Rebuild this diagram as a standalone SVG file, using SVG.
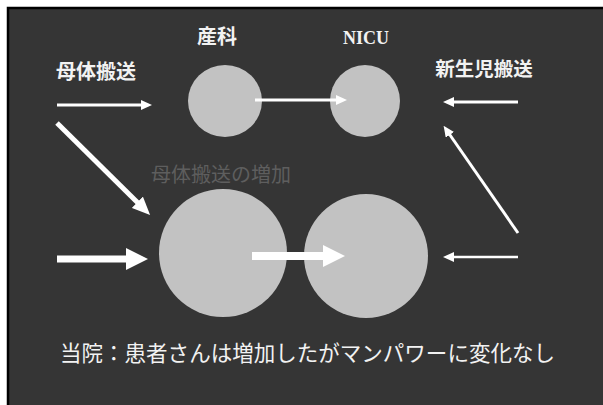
<svg xmlns="http://www.w3.org/2000/svg" width="603" height="405" viewBox="0 0 603 405">
<style>
.bg{fill:#353535;stroke:#000;stroke-width:2.5}
.node{fill:#c2c2c2}
.lbl{font-family:"Noto Sans CJK JP","Noto Sans",sans-serif;fill:#f2f2f2;text-anchor:middle}
.b{font-weight:bold}
.serif{font-family:"Liberation Serif",serif;fill:#f2f2f2;text-anchor:middle;font-weight:bold}
.faint{font-family:"Noto Sans CJK JP",sans-serif;fill:#5e5e5e;text-anchor:middle}
.arr{stroke:#fff;fill:none;stroke-linecap:butt}
</style>
<defs>
<marker id="hs" markerUnits="userSpaceOnUse" viewBox="0 0 11 10" markerWidth="11" markerHeight="10" refX="1" refY="5" orient="auto"><path d="M0,0 L11,5 L0,10 z" fill="#fff"/></marker>
<marker id="hm" markerUnits="userSpaceOnUse" viewBox="0 0 18 16" markerWidth="18" markerHeight="16" refX="1" refY="8" orient="auto"><path d="M0,0 L18,8 L0,16 z" fill="#fff"/></marker>
<marker id="hl" markerUnits="userSpaceOnUse" viewBox="0 0 22 22" markerWidth="22" markerHeight="22" refX="1" refY="11" orient="auto"><path d="M0,0 L22,11 L0,22 z" fill="#fff"/></marker>
</defs>
<rect x="0" y="0" width="603" height="405" fill="#fff"/>
<rect class="bg" x="8" y="8" width="600" height="402"/>
<g id="obstetrics"><ellipse class="node" cx="225" cy="101" rx="37" ry="36"/><text class="lbl b" x="217" y="44" font-size="20">産科</text></g>
<g id="nicu"><ellipse class="node" cx="365" cy="101" rx="35" ry="36"/><text class="serif" x="366" y="44" font-size="18">NICU</text></g>
<g id="obstetrics-big"><ellipse class="node" cx="223" cy="253" rx="64" ry="64"/></g>
<g id="nicu-big"><ellipse class="node" cx="366" cy="256" rx="62" ry="62"/></g>
<g id="labels">
<text class="lbl b" x="96" y="79" font-size="20">母体搬送</text>
<text class="lbl b" x="484" y="76" font-size="19.5">新生児搬送</text>
<text class="faint" x="221" y="182" font-size="20">母体搬送の増加</text>
<text class="lbl" x="307.5" y="361" font-size="21.5" textLength="495" lengthAdjust="spacingAndGlyphs">当院：患者さんは増加したがマンパワーに変化なし</text>
</g>
<g id="connectors">
<line class="arr" x1="57" y1="105" x2="142" y2="105" stroke-width="3" marker-end="url(#hs)"/>
<line class="arr" x1="255" y1="100" x2="337" y2="100" stroke-width="3" marker-end="url(#hs)"/>
<line class="arr" x1="518" y1="102" x2="453" y2="102" stroke-width="3" marker-end="url(#hs)"/>
<line class="arr" x1="518" y1="233" x2="449.3" y2="134" stroke-width="3" stroke-linecap="round" marker-end="url(#hs)"/>
<line class="arr" x1="57" y1="123" x2="138" y2="203" stroke-width="5" marker-end="url(#hm)"/>
<line class="arr" x1="57" y1="259" x2="127" y2="259" stroke-width="7" marker-end="url(#hl)"/>
<line class="arr" x1="252" y1="256" x2="324" y2="256" stroke-width="8" marker-end="url(#hl)"/>
<line class="arr" x1="518" y1="257" x2="453" y2="257" stroke-width="2.5" marker-end="url(#hs)"/>
</g>
</svg>
